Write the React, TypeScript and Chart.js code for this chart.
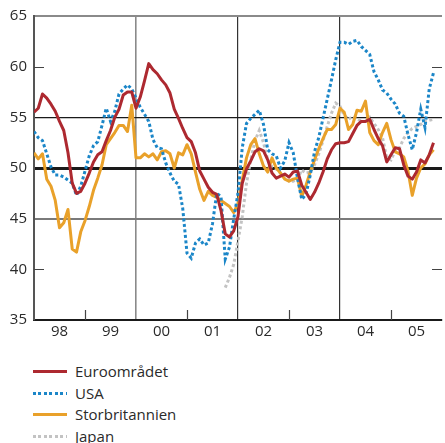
import React, { useEffect, useRef } from 'react';
import { Chart, registerables } from 'chart.js';

Chart.register(...registerables);

// ---- Data (monthly, Jan 1998 = month 0) ----
const years = ['98', '99', '00', '01', '02', '03', '04', '05'];
const monthsPerYear = 12;

const euroomradet = [
  55.5, 55.9, 57.3, 56.9, 56.3, 55.6, 54.6, 53.7, 51.5, 48.5, 47.5, 47.7,
  48.5, 49.5, 50.6, 51.3, 51.6, 52.7, 53.7, 55.0, 55.8, 57.2, 57.5, 57.5,
  55.9, 57.0, 58.6, 60.3, 59.7, 59.3, 58.7, 58.2, 57.4, 55.8, 54.9, 53.9,
  53.0, 52.6, 51.5, 49.7, 48.9, 48.1, 47.6, 47.4, 45.8, 43.5, 43.2, 43.8,
  45.2, 48.5, 49.9, 50.7, 51.6, 51.9, 51.7, 50.8, 49.5, 49.0, 49.2, 49.4,
  49.1, 49.6, 49.7, 48.3, 47.6, 46.9, 47.6, 48.5, 49.6, 50.9, 51.8, 52.4,
  52.5, 52.5, 52.6, 53.4, 54.2, 54.6, 54.6, 54.8, 53.8, 52.9, 52.2, 50.6,
  51.3, 52.0, 51.9, 50.3, 49.2, 48.9, 49.6, 50.8, 50.5, 51.3, 52.5,
];

const usa = [
  53.6, 53.0, 52.7, 51.4, 50.1, 49.3, 49.3, 49.1, 48.8, 48.5, 47.3, 48.2,
  49.7, 51.2, 52.2, 52.6, 54.2, 55.9, 54.6, 55.6, 57.3, 57.8, 58.2, 57.8,
  56.9, 56.0, 55.3, 54.6, 52.8, 52.0, 51.9, 50.5, 49.5, 48.7, 48.4, 46.0,
  41.6, 41.1, 42.6, 43.0, 42.4, 42.6, 44.5, 47.5, 47.2, 41.0, 42.2, 45.0,
  47.5, 52.0, 54.4, 54.9, 55.3, 55.7, 54.3, 51.8, 51.4, 51.2, 50.0, 50.7,
  52.5, 51.5, 49.0, 46.9, 47.4, 49.3, 51.6, 53.0, 54.9, 56.8, 58.7, 60.7,
  62.4, 62.4, 62.2, 62.5, 62.6, 62.0, 61.6, 61.2, 59.5, 58.7, 57.7, 57.4,
  56.8, 56.3, 55.4, 55.1, 53.3, 51.8, 53.5, 55.8, 54.0, 57.8, 59.4,
];

const storbritannien = [
  51.5, 50.9, 51.4, 48.9, 48.2, 46.8, 44.1, 44.6, 45.9, 42.0, 41.7, 43.7,
  44.8, 46.2, 47.8, 49.0, 50.3, 52.3, 52.9, 53.5, 54.2, 54.2, 53.6, 56.2,
  51.0, 51.0, 51.4, 51.1, 51.4, 50.8, 51.6, 51.7, 51.4, 50.0, 51.5, 51.3,
  52.3, 51.4, 49.6, 47.9, 46.8, 47.7, 47.3, 47.1, 46.8, 46.5, 46.2, 45.6,
  46.5, 48.8, 51.0, 52.3, 52.9, 51.4, 50.2, 49.6, 51.0, 50.0, 49.5, 48.9,
  48.7, 48.9, 49.0, 47.2, 48.3, 49.6, 50.8, 51.9, 52.9, 53.8, 53.8, 54.3,
  55.9, 55.5, 53.8, 54.3, 55.7, 55.6, 56.6, 53.5, 52.7, 52.3, 53.5, 54.4,
  52.8, 51.6, 51.4, 51.1, 49.7, 47.3, 49.0, 50.0, 50.4, 51.3, 51.8,
];

const japanStartMonth = 45;
const japan = [
  38.2, 39.2, 40.5, 42.8, 45.2, 48.5, 50.8, 52.7, 53.7, 52.5,
  50.8, 50.1, 49.9, 49.5, 49.0, 48.7, 48.7, 48.9, 49.8, 49.5,
  49.6, 50.3, 51.4, 52.7, 54.1, 55.4, 56.4, 56.1, 55.2, 54.8,
  55.1, 54.9, 54.6, 54.6, 55.0, 54.4, 53.8, 53.0, 51.0, 50.8,
  51.7, 52.0, 52.9, 53.5, 53.9, 54.1, 54.3, 54.6, 54.7, 54.8,
];

const yTickValues = [35, 40, 45, 50, 55, 60, 65];
const seriesNames = ['Euroområdet', 'USA', 'Storbritannien', 'Japan'];

// ---- Styles ----
const FONT = "'Open Sans', 'DejaVu Sans', sans-serif";
const RED = '#AD2930';
const BLUE = '#1B86C8';
const ORANGE = '#E9A12A';
const GRAY = '#C3C3C3';
const TEXT = '#2a2a2a';

const toPoints = (vals: number[], start = 0) =>
  vals.map((v, i) => ({ x: start + i, y: v }));

const totalMonths = years.length * monthsPerYear;

const innerTicks = {
  id: 'innerTicks',
  beforeDatasetsDraw(chart: any) {
    const { ctx, chartArea, scales } = chart;
    const { left, right, bottom } = chartArea;
    ctx.save();
    ctx.strokeStyle = '#444';
    ctx.lineWidth = 1.2;
    // short y ticks (inward, both sides) at 40 and 60
    [40, 60].forEach((v) => {
      const py = Math.round(scales.y.getPixelForValue(v)) + 0.5;
      ctx.beginPath();
      ctx.moveTo(left, py);
      ctx.lineTo(left + 10, py);
      ctx.moveTo(right - 10, py);
      ctx.lineTo(right, py);
      ctx.stroke();
    });
    // short x ticks at odd-year boundaries
    for (let yIdx = 1; yIdx < years.length; yIdx += 2) {
      const px = Math.round(scales.x.getPixelForValue(yIdx * monthsPerYear)) + 0.5;
      ctx.beginPath();
      ctx.moveTo(px, bottom);
      ctx.lineTo(px, bottom - 10);
      ctx.stroke();
    }
    ctx.restore();
  },
};

function LegendRow({ name, color, dotted }: { name: string; color: string; dotted: boolean }) {
  const lineStyle: React.CSSProperties = dotted
    ? {
        background: `repeating-linear-gradient(to right, ${color} 0 3px, transparent 3px 5.5px)`,
      }
    : { background: color };
  return (
    <div style={{ display: 'flex', alignItems: 'center', height: 21.5 }}>
      <span
        style={{
          display: 'inline-block',
          width: 34,
          height: 3,
          marginLeft: 33,
          ...lineStyle,
        }}
      />
      <span style={{ marginLeft: 8, fontSize: 15, color: TEXT, fontFamily: FONT, lineHeight: '21.5px' }}>
        {name}
      </span>
    </div>
  );
}

export default function App() {
  const canvasRef = useRef<HTMLCanvasElement | null>(null);

  useEffect(() => {
    document.body.style.margin = '0';
    const canvas = canvasRef.current;
    if (!canvas) return;
    Chart.defaults.font.family = FONT;

    const chart = new Chart(canvas, {
      type: 'line',
      data: {
        datasets: [
          {
            label: seriesNames[0],
            data: toPoints(euroomradet),
            borderColor: RED,
            borderWidth: 3,
            pointRadius: 0,
            borderJoinStyle: 'round',
          },
          {
            label: seriesNames[1],
            data: toPoints(usa),
            borderColor: BLUE,
            borderWidth: 3,
            borderDash: [3, 2.5],
            pointRadius: 0,
          },
          {
            label: seriesNames[2],
            data: toPoints(storbritannien),
            borderColor: ORANGE,
            borderWidth: 3,
            pointRadius: 0,
            borderJoinStyle: 'round',
          },
          {
            label: seriesNames[3],
            data: toPoints(japan, japanStartMonth),
            borderColor: GRAY,
            borderWidth: 3,
            borderDash: [3, 2.5],
            pointRadius: 0,
          },
        ],
      },
      options: {
        responsive: false,
        animation: false,
        events: [],
        layout: { padding: { top: 14, right: 0, left: 0, bottom: 0 } },
        plugins: { legend: { display: false }, tooltip: { enabled: false } },
        scales: {
          x: {
            type: 'linear',
            min: 0,
            max: totalMonths,
            afterBuildTicks: (scale: any) => {
              const t: { value: number }[] = [];
              for (let v = 0; v <= totalMonths; v += monthsPerYear / 2) t.push({ value: v });
              scale.ticks = t;
            },
            afterFit: (scale: any) => {
              scale.height = 25;
            },
            ticks: {
              autoSkip: false,
              maxRotation: 0,
              padding: 3,
              color: TEXT,
              font: { size: 15, family: FONT },
              callback: (value: any) => {
                const v = Number(value);
                if ((v - monthsPerYear / 2) % monthsPerYear === 0) {
                  return years[(v - monthsPerYear / 2) / monthsPerYear];
                }
                return '';
              },
            },
            grid: {
              drawTicks: false,
              color: (ctx: any) => {
                const v = ctx.tick?.value;
                if (v === 24) return '#8a8a8a';
                if (v === 48 || v === 72) return '#333';
                return 'rgba(0,0,0,0)';
              },
              lineWidth: (ctx: any) => (ctx.tick?.value === 24 ? 1.6 : 1.2),
            },
            border: { display: true, color: '#1a1a1a', width: 2 },
          },
          y: {
            min: 35,
            max: 65,
            afterBuildTicks: (scale: any) => {
              scale.ticks = yTickValues.map((v) => ({ value: v }));
            },
            afterFit: (scale: any) => {
              scale.width = 34;
            },
            ticks: {
              padding: 7,
              color: TEXT,
              font: { size: 15, family: FONT },
            },
            grid: {
              drawTicks: false,
              color: (ctx: any) => {
                const v = ctx.tick?.value;
                if (v === 50) return '#1a1a1a';
                if (v === 55) return '#1a1a1a';
                if (v === 45) return '#7a7a7a';
                if (v === 65) return '#8a8a8a';
                return 'rgba(0,0,0,0)';
              },
              lineWidth: (ctx: any) => {
                const v = ctx.tick?.value;
                if (v === 50) return 3;
                if (v === 45 || v === 65) return 2;
                return 1.3;
              },
            },
            border: { display: true, color: '#555', width: 2 },
          },
        },
      },
      plugins: [innerTicks],
    });

    return () => chart.destroy();
  }, []);

  return (
    <div style={{ position: 'relative', width: 445, height: 443, overflow: 'hidden', background: '#fff' }}>
      <canvas ref={canvasRef} width={445} height={345} style={{ display: 'block' }} />
      <div style={{ position: 'absolute', left: 0, top: 361 }}>
        <LegendRow name={seriesNames[0]} color={RED} dotted={false} />
        <LegendRow name={seriesNames[1]} color={BLUE} dotted={true} />
        <LegendRow name={seriesNames[2]} color={ORANGE} dotted={false} />
        <LegendRow name={seriesNames[3]} color={GRAY} dotted={true} />
      </div>
    </div>
  );
}
